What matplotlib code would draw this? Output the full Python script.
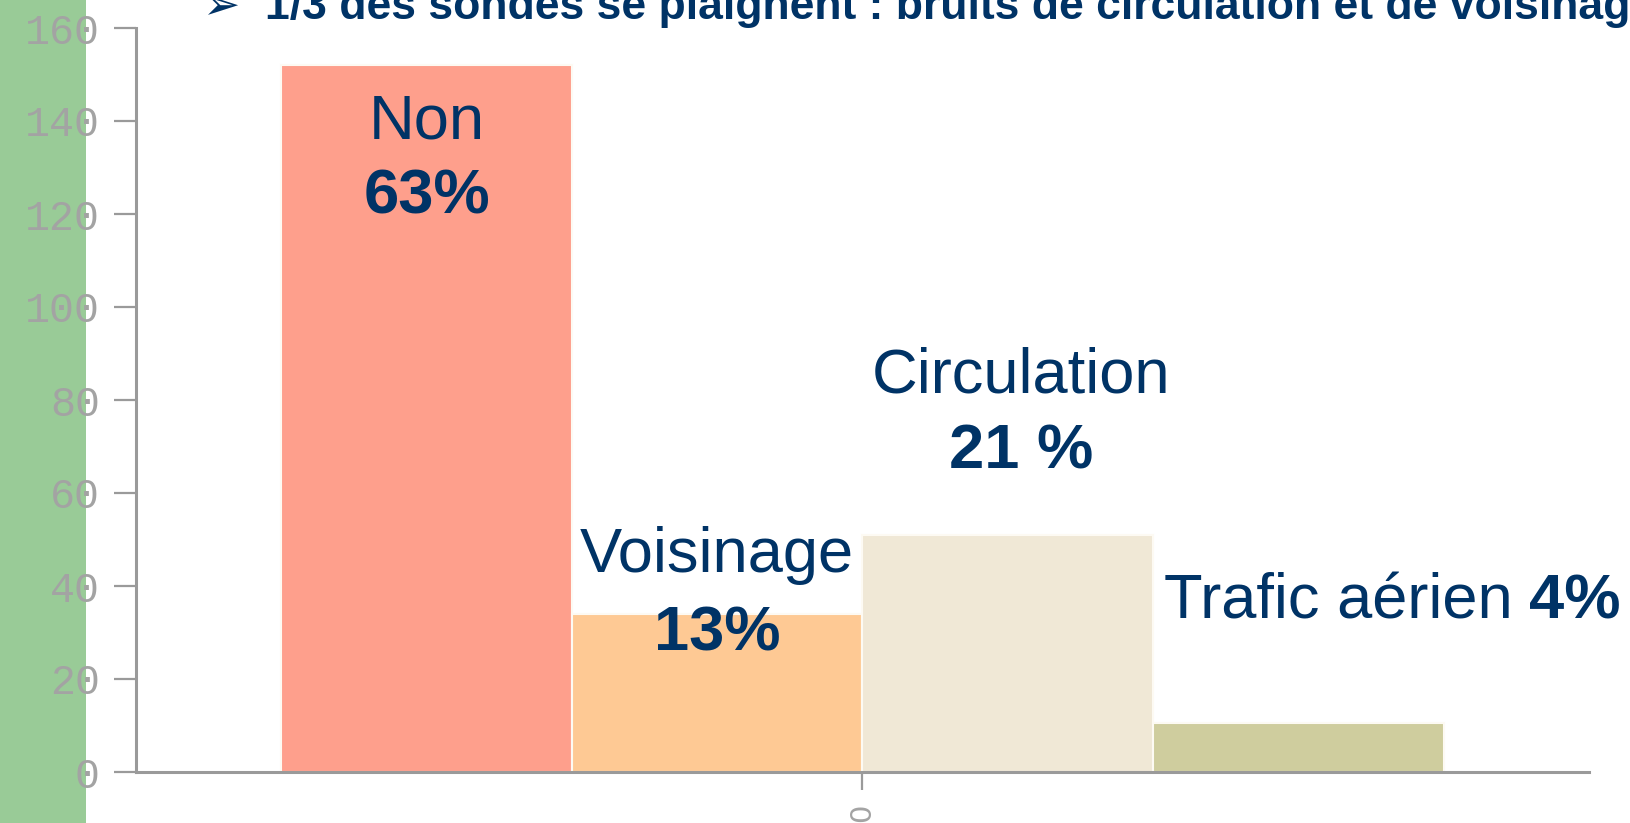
import matplotlib
matplotlib.use("Agg")
import matplotlib.pyplot as plt
from matplotlib.patches import Rectangle
import numpy as np

# ---- data ----
categories = ["Non", "Voisinage", "Circulation", "Trafic aérien"]
counts = [152, 34, 51, 10.5]
percent_labels = ["63%", "13%", "21 %", "4%"]
group_labels = ["0"]
yticks = [0, 20, 40, 60, 80, 100, 120, 140, 160]
title = "\u27a2  1/3 des sondés se plaignent : bruits de circulation et de voisinage"

bar_colors = ["#FE9F8C", "#FEC994", "#F0E8D6", "#CFCD9E"]
text_color = "#003366"
grey = "#9a9a9a"

W, H = 1631, 823
fig = plt.figure(figsize=(W / 100, H / 100), dpi=100)
fig.patch.set_facecolor("white")
fig.patches.append(Rectangle((0, 0), 86 / W, 1, transform=fig.transFigure,
                             facecolor="#99CB97", edgecolor="none", zorder=-5))

ax = fig.add_axes([136 / W, 1 - 772 / H, (1589 - 136) / W, (772 - 28) / H])
ax.set_facecolor("none")
ax.set_zorder(2)

n = len(categories)
width = 0.2
offsets = (np.arange(n) - (n - 1) / 2) * width
ax.bar(offsets, counts, width=width, color=bar_colors, edgecolor="#fdfaf3",
       linewidth=1.5, zorder=2)

ax.set_xlim(-0.5, 0.5)
ax.set_ylim(0, 160)
ax.set_yticks(yticks)
ax.set_yticklabels([str(v) for v in yticks], fontfamily="Liberation Mono",
                   fontsize=30, color="#a3a3a3")
ax.set_xticks([0])
ax.set_xticklabels(group_labels, rotation=90, fontfamily="DejaVu Sans",
                   fontsize=21, color="#a3a3a3", va="top")
ax.tick_params(axis="y", direction="out", length=16, width=1.6, color=grey, pad=10)
ax.tick_params(axis="x", direction="out", length=13, width=1.6, color=grey, pad=10)
for s in ["top", "right"]:
    ax.spines[s].set_visible(False)
for s in ["left", "bottom"]:
    ax.spines[s].set_color(grey)
    ax.spines[s].set_linewidth(2.2)

fs = 45.5
font = ["Liberation Sans", "DejaVu Sans"]
# Non
ax.text(offsets[0], 136.3, categories[0], ha="center", va="baseline",
        fontsize=fs, color=text_color, family=font)
ax.text(offsets[0], 120.0, percent_labels[0], ha="center", va="baseline",
        fontsize=fs, color=text_color, family=font, fontweight="bold")
# Voisinage
ax.text(offsets[1], 43.0, categories[1], ha="center", va="baseline",
        fontsize=fs, color=text_color, family=font)
ax.text(offsets[1], 26.2, percent_labels[1], ha="center", va="baseline",
        fontsize=fs, color=text_color, family=font, fontweight="bold")
# Circulation
ax.text(offsets[2] + 0.009, 81.7, categories[2], ha="center", va="baseline",
        fontsize=fs, color=text_color, family=font)
ax.text(offsets[2] + 0.009, 65.2, percent_labels[2], ha="center", va="baseline",
        fontsize=fs, color=text_color, family=font, fontweight="bold")
# Trafic aérien
ax.text(0.2075, 33.1, categories[3], ha="left", va="baseline",
        fontsize=fs, color=text_color, family=font, clip_on=False)
ax.text(0.522, 33.1, percent_labels[3], ha="right", va="baseline",
        fontsize=fs, color=text_color, family=font, fontweight="bold", clip_on=False)

fig.text(203 / W, 1 - 19 / H, title, ha="left", va="baseline", fontsize=32,
         fontweight="bold", color=text_color, family=font)

fig.savefig("out.png", dpi=100)
